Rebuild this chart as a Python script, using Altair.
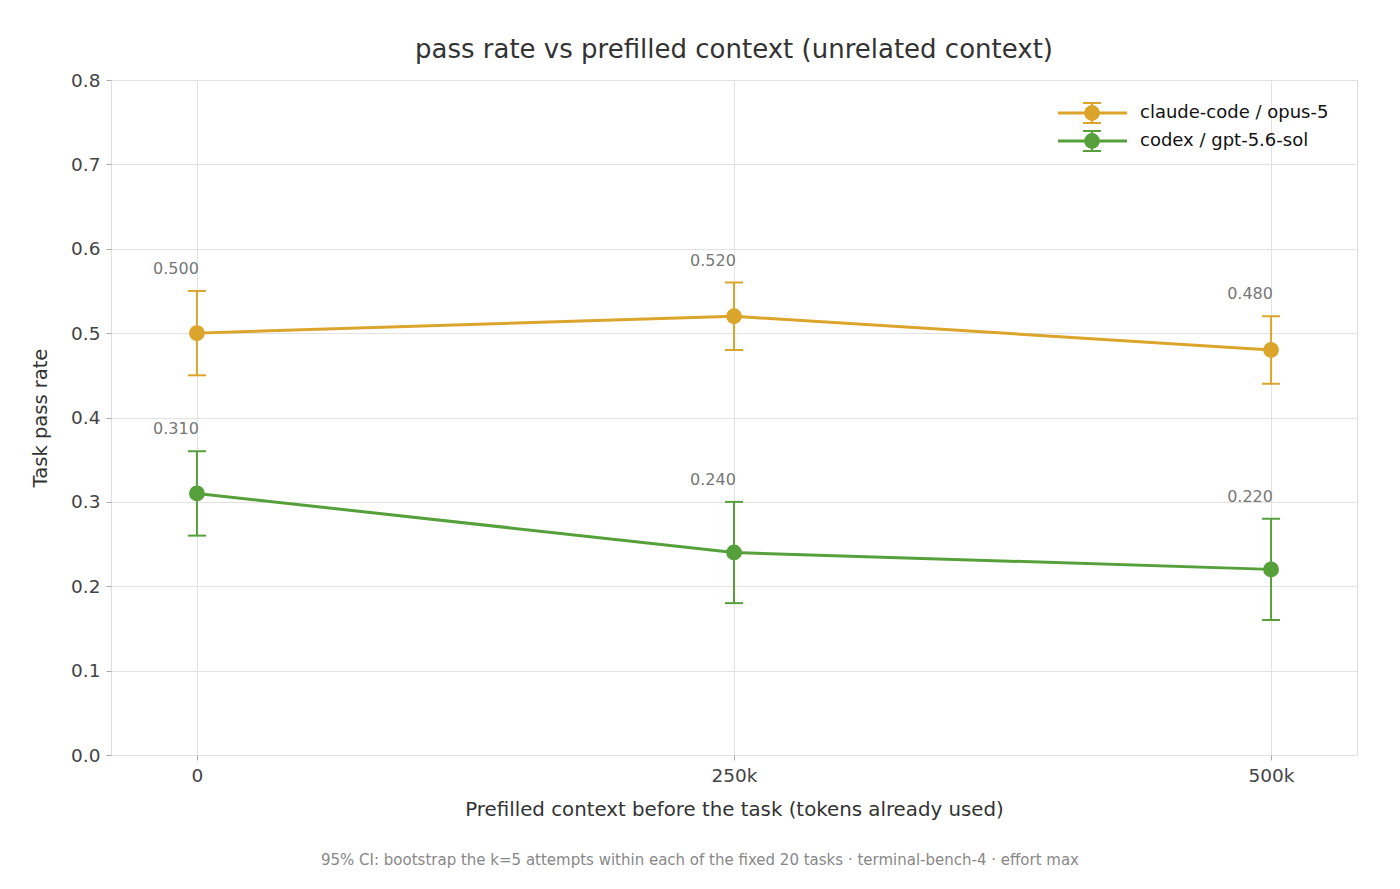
import altair as alt
import pandas as pd

# data
x_tokens = [0, 250000, 500000]
series_names = ["claude-code / opus-5", "codex / gpt-5.6-sol"]
series_colors = ["#DAA52A", "#56A03C"]

claude_rate = [0.50, 0.52, 0.48]
claude_lo = [0.45, 0.48, 0.44]
claude_hi = [0.55, 0.56, 0.52]

codex_rate = [0.31, 0.24, 0.22]
codex_lo = [0.26, 0.18, 0.16]
codex_hi = [0.36, 0.30, 0.28]

y_ticks = [0.0, 0.1, 0.2, 0.3, 0.4, 0.5, 0.6, 0.7, 0.8]
footer = "95% CI: bootstrap the k=5 attempts within each of the fixed 20 tasks · terminal-bench-4 · effort max"

W, H = 1246, 675
FONT = "DejaVu Sans"

rows = []
for name, rate, lo, hi in [
    (series_names[0], claude_rate, claude_lo, claude_hi),
    (series_names[1], codex_rate, codex_lo, codex_hi),
]:
    for x, r, l, h in zip(x_tokens, rate, lo, hi):
        rows.append({"tokens": x, "series": name, "rate": r, "lo": l, "hi": h,
                     "label": f"{r:.3f}"})
df = pd.DataFrame(rows)

color = alt.Color("series:N", scale=alt.Scale(domain=series_names, range=series_colors),
                  legend=None)

x_enc = alt.X("tokens:Q",
              scale=alt.Scale(domain=[-40000, 540000], nice=False, zero=False),
              axis=alt.Axis(values=x_tokens,
                            labelExpr="datum.value == 0 ? '0' : datum.value / 1000 + 'k'",
                            title="Prefilled context before the task (tokens already used)",
                            titleX=W / 2, titleY=54, titleBaseline="middle",
                            titleFontSize=19.8, titleFontWeight="normal", titleColor="#333",
                            labelFontSize=18.5, labelColor="#444", labelPadding=6,
                            tickSize=5, tickColor="#aaa", domain=False,
                            gridColor="#e2e2e2"))

base = alt.Chart(df).encode(x=x_enc, color=color)

yq = alt.Y("rate:Q", scale=alt.Scale(domain=[0, 0.8], nice=False),
           axis=alt.Axis(values=y_ticks, format=".1f", title="Task pass rate",
                         titleX=-71, titleY=H / 2, titleAngle=-90,
                         titleAlign="center", titleBaseline="middle",
                         titleFontSize=19.5, titleFontWeight="normal", titleColor="#333",
                         labelFontSize=18.5, labelColor="#444", labelPadding=6,
                         tickSize=5, tickColor="#aaa", domain=False,
                         gridColor="#e2e2e2"))

err = base.mark_rule(strokeWidth=2).encode(y=yq, y2="hi:Q").transform_calculate(
    rate="datum.lo")
cap_lo = base.mark_tick(orient="horizontal", size=18, thickness=2, opacity=1).encode(
    y=alt.Y("lo:Q"))
cap_hi = base.mark_tick(orient="horizontal", size=18, thickness=2, opacity=1).encode(
    y=alt.Y("hi:Q"))
line = base.mark_line(strokeWidth=3).encode(y=yq)
points = base.mark_point(filled=True, size=250, opacity=1).encode(y=yq)
labels = base.mark_text(font=FONT, fontSize=16, dx=-21, dy=-22, align="center",
                        baseline="middle").encode(
    y=alt.Y("hi:Q"), text="label:N", color=alt.value("#777"))

# hand-made legend in the top right corner of the plot
legend_layers = []
for i, (name, col) in enumerate(zip(series_names, series_colors)):
    src = alt.Chart(pd.DataFrame({"series": [name]}))
    yc = 33 + 28 * i
    legend_layers += [
        src.mark_rule(strokeWidth=3, color=col).encode(
            x=alt.value(947), x2=alt.value(1016), y=alt.value(yc)),
        src.mark_rule(strokeWidth=2, color=col).encode(
            x=alt.value(981), y=alt.value(yc - 10), y2=alt.value(yc + 10)),
        src.mark_rule(strokeWidth=2, color=col).encode(
            x=alt.value(972), x2=alt.value(990), y=alt.value(yc - 10)),
        src.mark_rule(strokeWidth=2, color=col).encode(
            x=alt.value(972), x2=alt.value(990), y=alt.value(yc + 10)),
        src.mark_point(filled=True, size=250, opacity=1, color=col).encode(
            x=alt.value(981), y=alt.value(yc)),
        src.mark_text(font=FONT, fontSize=18, align="left", baseline="middle",
                      color="#111").encode(
            x=alt.value(1029), y=alt.value(yc), text="series:N"),
    ]

foot = alt.Chart(pd.DataFrame({"t": [footer]})).mark_text(
    font=FONT, fontSize=15, color="#888", align="center", baseline="middle").encode(
    x=alt.value(589), y=alt.value(780), text="t:N")

chart = alt.layer(err, cap_lo, cap_hi, line, points, labels, *legend_layers, foot).properties(
    width=W, height=H,
    autosize=alt.AutoSizeParams(type="none"),
    padding={"left": 103, "top": 72, "right": 27, "bottom": 130},
    title=alt.TitleParams("pass rate vs prefilled context (unrelated context)",
                          font=FONT, fontSize=26, fontWeight="normal", color="#333",
                          anchor="middle", frame="group", baseline="bottom", offset=10,
                          dy=28),
).configure_view(stroke="#cccccc").configure(font=FONT)

chart.save("out.html", embed_options={"renderer": "svg", "actions": False})
